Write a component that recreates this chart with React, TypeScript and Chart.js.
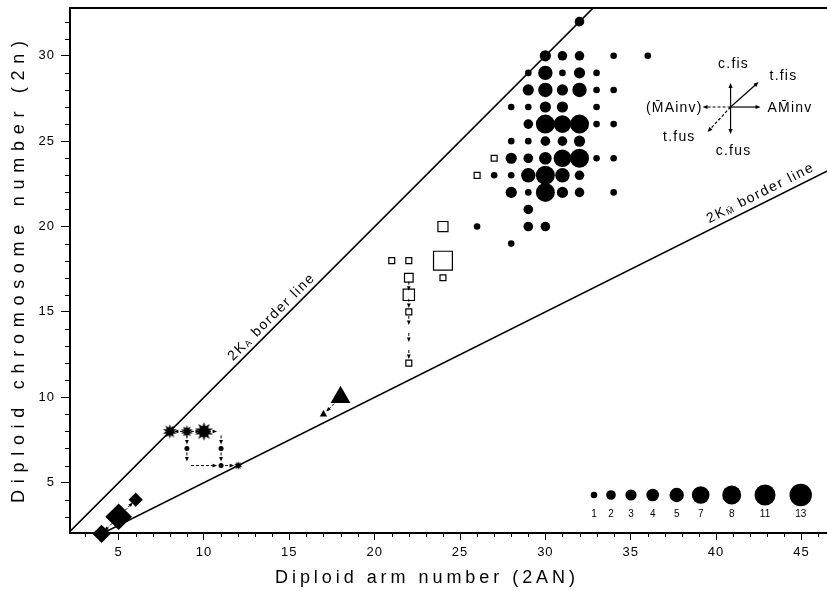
import React, { useEffect, useRef } from "react";
import { Chart, registerables } from "chart.js";

Chart.register(...registerables);

const FONT = '"Liberation Sans", Arial, Helvetica, sans-serif';

// ---- axes ----
const X_MIN = 2.15;
const X_MAX = 46.5;
const Y_MIN = 2.05;
const Y_MAX = 32.8;
const xTickLabels = [5, 10, 15, 20, 25, 30, 35, 40, 45];
const yTickLabels = [5, 10, 15, 20, 25, 30];
const xTitle = "Diploid arm number (2AN)";
const yTitle = "Diploid chromosome number (2n)";

// ---- filled circles (number of karyotypes at each 2AN / 2n) ----
const dotX = [32, 30, 31, 32, 34, 36, 29, 30, 31, 32, 33, 29, 30, 31, 32, 33, 34, 28, 29, 30, 31, 33, 29, 30, 31, 32, 33, 34, 28, 29, 30, 31, 32, 28, 29, 30, 31, 32, 33, 34, 27, 28, 29, 30, 31, 32, 28, 29, 30, 31, 32, 34, 29, 26, 29, 30, 28];
const dotY = [32, 30, 30, 30, 30, 30, 29, 29, 29, 29, 29, 28, 28, 28, 28, 28, 28, 27, 27, 27, 27, 27, 26, 26, 26, 26, 26, 26, 25, 25, 25, 25, 25, 24, 24, 24, 24, 24, 24, 24, 23, 23, 23, 23, 23, 23, 22, 22, 22, 22, 22, 22, 21, 20, 20, 20, 19];
const dotN = [2, 3, 2, 2, 1, 1, 1, 5, 1, 3, 1, 3, 5, 3, 5, 1, 1, 1, 1, 3, 3, 1, 2, 8, 7, 8, 1, 1, 1, 1, 2, 2, 3, 3, 2, 4, 7, 8, 1, 1, 1, 1, 5, 8, 5, 2, 3, 1, 8, 3, 2, 1, 2, 1, 2, 2, 1];

// ---- open squares ----
const squareX = [24, 24, 24, 21, 22, 22, 22, 22, 22, 26, 27];
const squareY = [20, 18, 17, 18, 18, 17, 16, 15, 12, 23, 24];
const squareN = [3, 11, 1, 1, 1, 2, 4, 1, 1, 1, 1];

// ---- diamonds ----
const diamondX = [4, 5, 6];
const diamondY = [2, 3, 4];
const diamondN = [5, 11, 3];

// ---- triangles ----
const triangleX = [18, 17];
const triangleY = [10, 9];
const triangleN = [7, 1];

// ---- asterisks ----
const starX = [8, 9, 10, 12];
const starY = [8, 8, 8, 6];
const starN = [3, 2, 5, 1];

// ---- small path dots ----
const pathDotX = [9, 11, 11];
const pathDotY = [7, 7, 6];

// ---- dashed transition arrows (from -> to) ----
const arrowFromX = [9, 9, 10, 11, 11, 11, 9, 9, 9, 5, 5, 18, 22, 22, 22, 22, 22];
const arrowFromY = [8, 8, 8, 8, 7, 6, 8, 7, 6, 3, 3, 10, 17, 16, 15, 14, 13];
const arrowToX = [8, 10, 11, 11, 11, 12, 9, 9, 11, 6, 4, 17, 22, 22, 22, 22, 22];
const arrowToY = [8, 8, 8, 7, 6, 6, 7, 6, 6, 4, 2, 9, 16, 15, 14, 13, 12];

// ---- border lines ----
const upperLineX = [2, 40];
const upperLineY = [2, 40];
const lowerLineX = [4, 50];
const lowerLineY = [2, 25];

// ---- size legend ----
const legendCounts = [1, 2, 3, 4, 5, 7, 8, 11, 13];
const legendRadius = [3.3, 4.8, 5.6, 6.3, 7.2, 8.8, 9.5, 10.5, 11.2];

function radiusFor(n: number): number {
  const i = legendCounts.indexOf(n);
  if (i >= 0) return legendRadius[i];
  for (let k = 0; k < legendCounts.length - 1; k++) {
    if (n > legendCounts[k] && n < legendCounts[k + 1]) {
      const t = (n - legendCounts[k]) / (legendCounts[k + 1] - legendCounts[k]);
      return legendRadius[k] + t * (legendRadius[k + 1] - legendRadius[k]);
    }
  }
  return legendRadius[legendRadius.length - 1];
}

const pts = (xs: number[], ys: number[]) => xs.map((x, i) => ({ x, y: ys[i] }));

// spiky burst marker (asterisk-like) as an image point style
function burst(r: number): HTMLCanvasElement {
  const size = Math.ceil(r * 2 + 2);
  const c = document.createElement("canvas");
  c.width = size;
  c.height = size;
  const g = c.getContext("2d")!;
  const cx = size / 2, cy = size / 2;
  const spikes = 10;
  g.beginPath();
  for (let i = 0; i < spikes * 2; i++) {
    const rr = i % 2 === 0 ? r : r * 0.55;
    const a = (Math.PI * i) / spikes - Math.PI / 2;
    const x = cx + Math.cos(a) * rr, y = cy + Math.sin(a) * rr;
    if (i === 0) g.moveTo(x, y);
    else g.lineTo(x, y);
  }
  g.closePath();
  g.fillStyle = "#000";
  g.fill();
  return c;
}

function drawArrow(ctx: CanvasRenderingContext2D, x1: number, y1: number, x2: number, y2: number, dash: number[], head = 5, width = 1) {
  const a = Math.atan2(y2 - y1, x2 - x1);
  const c = Math.cos(a), s = Math.sin(a);
  ctx.save();
  ctx.strokeStyle = "#000";
  ctx.fillStyle = "#000";
  ctx.lineWidth = width;
  ctx.setLineDash(dash);
  ctx.beginPath();
  ctx.moveTo(x1, y1);
  ctx.lineTo(x2 - c * head * 0.8, y2 - s * head * 0.8);
  ctx.stroke();
  ctx.setLineDash([]);
  ctx.beginPath();
  ctx.moveTo(x2, y2);
  ctx.lineTo(x2 - head * c + head * 0.42 * s, y2 - head * s - head * 0.42 * c);
  ctx.lineTo(x2 - head * c - head * 0.42 * s, y2 - head * s + head * 0.42 * c);
  ctx.closePath();
  ctx.fill();
  ctx.restore();
}

// draw text spread to a target length (letter-spaced, like the original lettering)
function spreadText(ctx: CanvasRenderingContext2D, text: string, x: number, y: number, target: number) {
  const anyCtx = ctx as any;
  anyCtx.letterSpacing = "0px";
  const w = ctx.measureText(text).width;
  const sp = Math.max(0, (target - w) / Math.max(1, text.length - 1));
  anyCtx.letterSpacing = `${sp}px`;
  ctx.textAlign = "left";
  ctx.fillText(text, x - target / 2, y);
  anyCtx.letterSpacing = "0px";
}

const spacing = {
  id: "spacing",
  beforeDraw(chart: any) {
    (chart.ctx as any).letterSpacing = "1px";
  },
  afterDraw(chart: any) {
    (chart.ctx as any).letterSpacing = "0px";
  },
};

const overlay = {
  id: "overlay",
  afterDatasetsDraw(chart: any) {
    const ctx: CanvasRenderingContext2D = chart.ctx;
    const anyCtx = ctx as any;
    const xs = chart.scales.x;
    const ys = chart.scales.y;
    const area = chart.chartArea;
    const px = (v: number) => xs.getPixelForValue(v);
    const py = (v: number) => ys.getPixelForValue(v);

    ctx.save();
    anyCtx.letterSpacing = "0px";
    // top frame line
    ctx.strokeStyle = "#000";
    ctx.lineWidth = 2;
    ctx.beginPath();
    ctx.moveTo(area.left - 1, area.top);
    ctx.lineTo(area.right, area.top);
    ctx.stroke();

    // minor ticks
    ctx.lineWidth = 1;
    ctx.beginPath();
    for (let v = Math.ceil(X_MIN); v <= Math.floor(X_MAX); v++) {
      if (xTickLabels.includes(v)) continue;
      const x = Math.round(px(v)) + 0.5;
      ctx.moveTo(x, area.bottom);
      ctx.lineTo(x, area.bottom + 4);
    }
    for (let v = Math.ceil(Y_MIN); v <= Math.floor(Y_MAX); v++) {
      if (yTickLabels.includes(v)) continue;
      const y = Math.round(py(v)) + 0.5;
      ctx.moveTo(area.left, y);
      ctx.lineTo(area.left - 5, y);
    }
    ctx.stroke();

    // transition arrows
    for (let i = 0; i < arrowFromX.length; i++) {
      const x1 = px(arrowFromX[i]), y1 = py(arrowFromY[i]);
      const x2 = px(arrowToX[i]), y2 = py(arrowToY[i]);
      const d = Math.hypot(x2 - x1, y2 - y1);
      const ux = (x2 - x1) / d, uy = (y2 - y1) / d;
      const g1 = 4, g2 = 4;
      drawArrow(ctx, x1 + ux * g1, y1 + uy * g1, x2 - ux * g2, y2 - uy * g2, [3, 2], 4.5, 1);
    }

    // border line labels
    const lineLabel = (ax: number, ay: number, bx: number, by: number, atX: number, main: string, sub: string, rest: string, gap: number, sp: number) => {
      const x1 = px(ax), y1 = py(ay), x2 = px(bx), y2 = py(by);
      const ang = Math.atan2(y2 - y1, x2 - x1);
      const t = (atX - x1) / (x2 - x1);
      const cx = atX, cy = y1 + (y2 - y1) * t;
      ctx.save();
      ctx.translate(cx, cy);
      ctx.rotate(ang);
      ctx.fillStyle = "#000";
      ctx.textBaseline = "alphabetic";
      anyCtx.letterSpacing = `${sp}px`;
      const big = `14px ${FONT}`;
      const small = `9px ${FONT}`;
      ctx.font = big;
      const w1 = ctx.measureText(main).width;
      const w3 = ctx.measureText(rest).width;
      ctx.font = small;
      const w2 = ctx.measureText(sub).width;
      const total = w1 + w2 + w3;
      let x = -total / 2;
      ctx.font = big;
      ctx.textAlign = "left";
      ctx.fillText(main, x, -gap);
      x += w1;
      ctx.font = small;
      ctx.fillText(sub, x, -gap + 1);
      x += w2;
      ctx.font = big;
      ctx.fillText(rest, x, -gap);
      anyCtx.letterSpacing = "0px";
      ctx.restore();
    };
    lineLabel(10, 10, 20, 20, 278, "2K", "A", " border line", 5, 1.6);
    lineLabel(30, 15, 50, 25, 765, "2K", "M\u0304", " border line", 6, 1.6);

    // direction diagram
    const ox = px(40.85), oy = py(27.0);
    drawArrow(ctx, ox, oy, ox, oy - 24, [], 5, 1.2);
    drawArrow(ctx, ox, oy, ox, oy + 27, [], 5, 1.2);
    drawArrow(ctx, ox, oy, ox + 30, oy, [], 5, 1.2);
    drawArrow(ctx, ox, oy, ox + 28, oy - 25, [], 5, 1.2);
    drawArrow(ctx, ox, oy, ox - 28, oy, [3, 2], 5, 1.2);
    drawArrow(ctx, ox, oy, ox - 23, oy + 25, [3, 2], 5, 1.2);
    ctx.fillStyle = "#000";
    ctx.font = `14px ${FONT}`;
    ctx.textBaseline = "middle";
    anyCtx.letterSpacing = "1.2px";
    ctx.textAlign = "center";
    ctx.fillText("c.fis", ox + 3, oy - 43);
    ctx.fillText("c.fus", ox + 3, oy + 44);
    ctx.textAlign = "left";
    ctx.fillText("t.fis", ox + 39, oy - 31);
    ctx.fillText("AM\u0304inv", ox + 37, oy + 1);
    ctx.textAlign = "right";
    ctx.fillText("(M\u0304Ainv)", ox - 28, oy + 1);
    ctx.fillText("t.fus", ox - 35, oy + 30);
    anyCtx.letterSpacing = "0px";

    // size legend
    const lx0 = area.right - 233;
    const lgap = [0, 17, 37, 58.7, 82.7, 106.7, 137.7, 171, 206.7];
    const ly = area.bottom - 38;
    for (let i = 0; i < legendCounts.length; i++) {
      const x = lx0 + lgap[i];
      ctx.beginPath();
      ctx.arc(x, ly, legendRadius[i], 0, Math.PI * 2);
      ctx.fillStyle = "#000";
      ctx.fill();
      ctx.font = `10px ${FONT}`;
      ctx.textAlign = "center";
      ctx.textBaseline = "middle";
      ctx.fillText(String(legendCounts[i]), x, ly + 19);
    }

    // axis titles
    ctx.fillStyle = "#000";
    ctx.font = `18px ${FONT}`;
    ctx.textBaseline = "middle";
    spreadText(ctx, xTitle, 425, 578, 300);
    ctx.save();
    ctx.translate(19, 272);
    ctx.rotate(-Math.PI / 2);
    spreadText(ctx, yTitle, 0, 0, 462);
    ctx.restore();

    ctx.restore();
  },
};

export default function App() {
  const ref = useRef<HTMLCanvasElement | null>(null);

  useEffect(() => {
    document.body.style.margin = "0";
    const canvas = ref.current;
    if (!canvas) return;
    const chart = new Chart(canvas, {
      type: "scatter",
      data: {
        datasets: [
          {
            data: pts(upperLineX, upperLineY),
            showLine: true,
            borderColor: "#000",
            borderWidth: 1.6,
            pointRadius: 0,
          },
          {
            data: pts(lowerLineX, lowerLineY),
            showLine: true,
            borderColor: "#000",
            borderWidth: 1.6,
            pointRadius: 0,
          },
          {
            data: pts(dotX, dotY),
            pointStyle: "circle",
            pointRadius: dotN.map(radiusFor),
            backgroundColor: "#000",
            borderWidth: 0,
            clip: false,
          },
          {
            data: pts(squareX, squareY),
            pointStyle: "rect",
            pointRadius: squareN.map((n) => radiusFor(n) * 1.27),
            backgroundColor: "#fff",
            borderColor: "#000",
            borderWidth: 1.2,
            clip: false,
          },
          {
            data: pts(diamondX, diamondY),
            pointStyle: "rectRot",
            pointRadius: diamondN.map((n) => radiusFor(n) * 1.27),
            backgroundColor: "#000",
            borderWidth: 0,
            clip: false,
          },
          {
            data: pts(triangleX, triangleY),
            pointStyle: "triangle",
            pointRadius: triangleN.map((n) => radiusFor(n) * 1.3),
            backgroundColor: "#000",
            borderWidth: 0,
            clip: false,
          },
          {
            data: pts(starX, starY),
            pointStyle: starN.map((n) => burst(radiusFor(n) * 1.3)),
            pointRadius: starN.map((n) => radiusFor(n) * 1.3),
            clip: false,
          },
          {
            data: pts(pathDotX, pathDotY),
            pointStyle: "circle",
            pointRadius: 2.5,
            backgroundColor: "#000",
            borderWidth: 0,
          },
        ],
      },
      options: {
        animation: false,
        responsive: false,
        events: [],
        layout: { autoPadding: false, padding: { top: 8, left: 0, right: 0, bottom: 0 } },
        plugins: { legend: { display: false }, tooltip: { enabled: false } },
        scales: {
          x: {
            type: "linear",
            min: X_MIN,
            max: X_MAX,
            afterBuildTicks: (s: any) => {
              s.ticks = xTickLabels.map((v) => ({ value: v }));
            },
            afterFit: (s: any) => {
              s.height = 58;
              s.paddingLeft = 0;
              s.paddingRight = 0;
            },
            grid: { display: true, drawOnChartArea: false, drawTicks: true, tickLength: 7, color: "#000", tickWidth: 1 },
            border: { display: true, color: "#000", width: 2 },
            ticks: { color: "#000", font: { family: FONT, size: 13 }, padding: 5, maxRotation: 0, autoSkip: false },
          },
          y: {
            type: "linear",
            min: Y_MIN,
            max: Y_MAX,
            afterBuildTicks: (s: any) => {
              s.ticks = yTickLabels.map((v) => ({ value: v }));
            },
            afterFit: (s: any) => {
              s.width = 70;
              s.paddingTop = 0;
              s.paddingBottom = 0;
            },
            grid: { display: true, drawOnChartArea: false, drawTicks: true, tickLength: 9, color: "#000", tickWidth: 1 },
            border: { display: true, color: "#000", width: 2 },
            ticks: { color: "#000", font: { family: FONT, size: 13 }, padding: 6, autoSkip: false },
          },
        },
      },
      plugins: [spacing, overlay],
    } as any);
    return () => chart.destroy();
  }, []);

  return (
    <div style={{ width: 827, height: 591 }}>
      <canvas ref={ref} width={827} height={591} style={{ display: "block" }} />
    </div>
  );
}
